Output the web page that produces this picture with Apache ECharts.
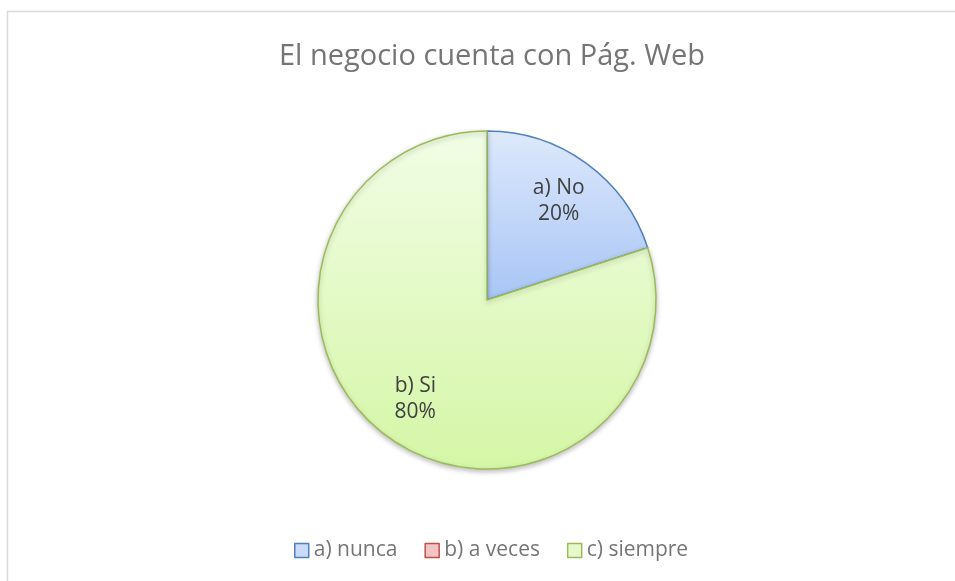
<!DOCTYPE html>
<html>
<head>
<meta charset="utf-8">
<script src="https://cdn.jsdelivr.net/npm/echarts@6/dist/echarts.min.js"></script>
<style>
html,body{margin:0;padding:0;background:#fff;}
#chart{width:955px;height:581px;}
</style>
</head>
<body>
<div id="chart"></div>
<script>
// Data
const titleText = 'El negocio cuenta con Pág. Web';
const categories = ['a) nunca', 'b) a veces', 'c) siempre'];
const values = [20, 0, 80];
const dataLabels = ['a) No', 'b) a veces', 'b) Si'];

const FONT = '"Open Sans", "Noto Sans", sans-serif';
const fills = [
  ['#dde9fc', '#a8c5f5'],
  ['#f7d4d4', '#eea9a9'],
  ['#f1fde5', '#d5f6a6']
];
const borders = ['#4f81bd', '#c0504d', '#9bbb59'];
const legendFills = ['#c9dbf9', '#f4c4c4', '#e6f9cc'];

function grad(c) {
  return new echarts.graphic.LinearGradient(0, 0, 0, 1, [
    { offset: 0, color: c[0] }, { offset: 1, color: c[1] }
  ]);
}

const total = values.reduce((a, b) => a + b, 0);

const mainData = categories.map((name, i) => ({
  name: name,
  value: values[i],
  itemStyle: {
    color: grad(fills[i]),
    borderColor: borders[i],
    borderWidth: values[i] > 0 ? 1.5 : 0,
    shadowBlur: i === 2 ? 5 : 0,
    shadowOffsetY: i === 2 ? 2 : 0,
    shadowColor: 'rgba(0,0,0,0.25)'
  }
}));

const labelData = categories.map((name, i) => ({
  name: name,
  value: values[i],
  label: { show: values[i] > 0 }
}));

const chart = echarts.init(document.getElementById('chart'), null, { renderer: 'canvas' });

chart.setOption({
  animation: false,
  backgroundColor: '#ffffff',
  graphic: [{
    type: 'rect',
    silent: true,
    shape: { x: 7.5, y: 11.5, width: 1000, height: 1000 },
    style: { fill: 'none', stroke: '#d9d9d9', lineWidth: 1.5 }
  }],
  title: {
    text: titleText,
    left: 487,
    textAlign: 'center',
    top: 37,
    textStyle: { fontFamily: FONT, fontSize: 29, fontWeight: 'normal', color: '#757575' }
  },
  legend: {
    bottom: 15,
    left: 289,
    icon: 'rect',
    itemWidth: 14,
    itemHeight: 14,
    itemGap: 27,
    textStyle: { fontFamily: FONT, fontSize: 21, color: '#757575' },
    data: categories.map((name, i) => ({
      name: name,
      itemStyle: { color: legendFills[i], borderColor: borders[i], borderWidth: 1.5 }
    }))
  },
  series: [
    {
      type: 'pie',
      center: [487, 300],
      radius: [0, 169],
      startAngle: 90,
      clockwise: true,
      silent: true,
      label: { show: false },
      labelLine: { show: false },
      emphasis: { disabled: true },
      data: mainData
    },
    {
      type: 'pie',
      center: [487, 300],
      radius: [0, 238],
      startAngle: 90,
      clockwise: true,
      silent: true,
      itemStyle: { color: 'rgba(0,0,0,0)', borderWidth: 0 },
      emphasis: { disabled: true },
      labelLine: { show: false },
      label: {
        position: 'inside',
        fontFamily: FONT,
        fontSize: 21,
        lineHeight: 26,
        color: '#404040',
        formatter: function (p) {
          const pct = Math.round(p.value / total * 100);
          return dataLabels[p.dataIndex] + '\n' + pct + '%';
        }
      },
      data: labelData
    }
  ]
});
</script>
</body>
</html>
